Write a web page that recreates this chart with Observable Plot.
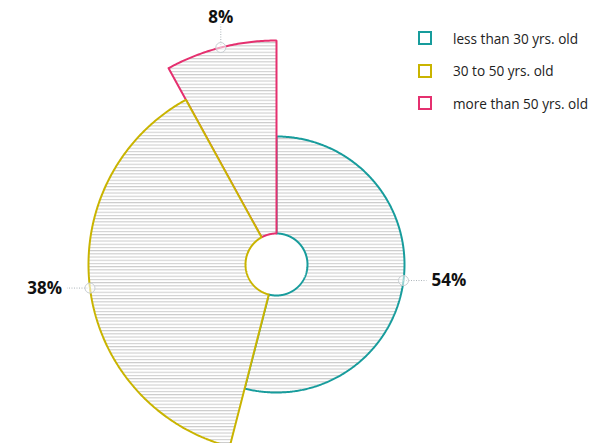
<!DOCTYPE html>
<html>
<head>
<meta charset="utf-8">
<script src="https://cdn.jsdelivr.net/npm/d3@7"></script>
<script src="https://cdn.jsdelivr.net/npm/@observablehq/plot@0.6"></script>
<style>
  body { margin: 0; background: #fff; font-family: "Open Sans", sans-serif; }
  #wrap { position: relative; width: 597px; height: 443px; overflow: hidden; }
  #legend { position: absolute; left: 418px; top: 22px; font-size: 13.6px; color: #222; }
  #legend .row { display: flex; align-items: center; height: 32.5px; }
  #legend .sw { width: 10px; height: 10px; border: 2px solid; margin-right: 21px; }
</style>
</head>
<body>
<div id="wrap"><div id="legend"></div></div>
<script>
const categories = ["less than 30 yrs. old", "30 to 50 yrs. old", "more than 50 yrs. old"];
const shares = [54, 38, 8];
const radii = [128, 188, 224];
const labels = ["54%", "38%", "8%"];
const colors = ["#179c9c", "#c9b400", "#e5306f"];
const innerRadius = 31;

// cumulative angles (clockwise from top)
const total = d3.sum(shares);
let acc = 0;
const segs = shares.map((s, i) => {
  const a0 = acc / total * 2 * Math.PI;
  acc += s;
  const a1 = acc / total * 2 * Math.PI;
  return {i, a0, a1, r: radii[i], color: colors[i], label: labels[i], cat: categories[i]};
});

function arcPts(seg) {
  const pts = [];
  const n = Math.max(8, Math.ceil((seg.a1 - seg.a0) / (Math.PI / 360)));
  for (let k = 0; k <= n; k++) {
    const a = seg.a0 + (seg.a1 - seg.a0) * k / n;
    pts.push({x: seg.r * Math.sin(a), y: seg.r * Math.cos(a)});
  }
  for (let k = n; k >= 0; k--) {
    const a = seg.a0 + (seg.a1 - seg.a0) * k / n;
    pts.push({x: innerRadius * Math.sin(a), y: innerRadius * Math.cos(a)});
  }
  pts.push(pts[0]);
  return pts;
}

const drawOrder = [0, 2, 1];
const wedgeMarks = drawOrder.map(i => Plot.line(arcPts(segs[i]), {
  x: "x", y: "y", fill: "url(#hatch)", stroke: segs[i].color, strokeWidth: 2,
  strokeLinejoin: "miter", curve: "linear"
}));

// label anchors at mid-angle of each wedge
const lab = segs.map(s => {
  const m = (s.a0 + s.a1) / 2;
  const sx = Math.sin(m), cy = Math.cos(m);
  const px = s.r * sx, py = s.r * cy;
  const horiz = Math.abs(sx) > Math.abs(cy);
  const len = 23;
  const ex = horiz ? px + Math.sign(sx) * len : px;
  const ey = horiz ? py : py + Math.sign(cy) * len;
  return {px, py, ex, ey, horiz, dir: horiz ? Math.sign(sx) : Math.sign(cy), label: s.label};
});

const font = "'Open Sans', sans-serif";
const textStyle = {text: "label", fontSize: 17, fontWeight: 700, fill: "#111"};
const plot = Plot.plot({
  width: 597, height: 443, margin: 0,
  x: {domain: [-276, 321], axis: null},
  y: {domain: [-179, 264], axis: null},
  style: {background: "white", fontFamily: font},
  marks: [
    ...wedgeMarks,
    Plot.link(lab, {x1: "px", y1: "py", x2: "ex", y2: "ey", stroke: "#aab3b8", strokeWidth: 1, strokeDasharray: "1,1.5"}),
    Plot.dot(lab, {x: "px", y: "py", r: 5, stroke: "#c8ced2", fill: "white", fillOpacity: 0.55, strokeWidth: 1}),
    Plot.text(lab.filter(d => d.horiz && d.dir > 0), {x: "ex", y: "ey", ...textStyle, textAnchor: "start", dx: 5}),
    Plot.text(lab.filter(d => d.horiz && d.dir < 0), {x: "ex", y: "ey", ...textStyle, textAnchor: "end", dx: -5}),
    Plot.text(lab.filter(d => !d.horiz), {x: "ex", y: "ey", ...textStyle, textAnchor: "middle", lineAnchor: "bottom", dy: -2})
  ]
});

// hatch pattern
const svg = d3.select(plot);
const pat = svg.insert("defs", ":first-child").append("pattern")
  .attr("id", "hatch").attr("patternUnits", "userSpaceOnUse")
  .attr("width", 20).attr("height", 3.2);
pat.append("rect").attr("x", 0).attr("y", 0).attr("width", 20).attr("height", 3.2).attr("fill", "white");
pat.append("rect").attr("x", 0).attr("y", 0).attr("width", 20).attr("height", 1.1).attr("fill", "#cdcdcd");

document.getElementById("wrap").prepend(plot);

const legend = d3.select("#legend");
segs.forEach(s => {
  const row = legend.append("div").attr("class", "row");
  row.append("div").attr("class", "sw").style("border-color", s.color);
  row.append("span").text(s.cat);
});
</script>
</body>
</html>
